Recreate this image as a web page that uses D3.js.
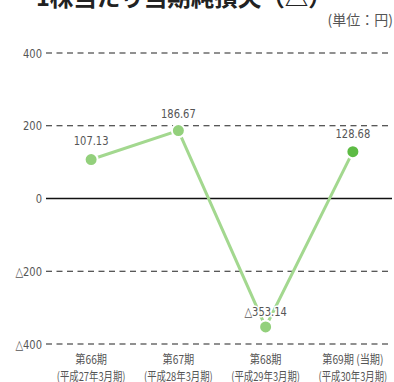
<!DOCTYPE html>
<html><head><meta charset="utf-8">
<script src="https://cdn.jsdelivr.net/npm/d3@7"></script>
<style>html,body{margin:0;padding:0;background:#fff;}</style>
</head><body>
<svg id="c" width="394" height="382"></svg>
<script>
const categories = ["第66期", "第67期", "第68期", "第69期 (当期)"];
const subLabels = ["(平成27年3月期)", "(平成28年3月期)", "(平成29年3月期)", "(平成30年3月期)"];
const values = [107.13, 186.67, -353.14, 128.68];
const valueLabels = ["107.13", "186.67", "△353.14", "128.68"];
const yTicks = [400, 200, 0, -200, -400];
const yTickLabels = ["400", "200", "0", "△200", "△400"];
const title = "1株当たり当期純損失（△）";
const unit = "(単位：円)";

const svg = d3.select("#c");
const JP = "'Noto Sans CJK JP','Noto Sans',sans-serif";
const NUM = "'Liberation Sans Narrow','DejaVu Sans Condensed',sans-serif";

const x = d3.scalePoint().domain(categories).range([47.5, 396.5]).padding(0.5);
const y = d3.scaleLinear().domain([-400, 400]).range([344, 53]);

// title (cut off at top, as in the reference)
svg.append("text").attr("x", 36).attr("y", 6)
  .attr("font-family", JP).attr("font-weight", "bold").attr("font-size", 23.5)
  .attr("fill", "#222").text(title);

svg.append("text").attr("x", 393).attr("y", 25).attr("text-anchor", "end")
  .attr("font-family", JP).attr("font-size", 14).attr("fill", "#555").text(unit);

// grid
yTicks.forEach((t, i) => {
  svg.append("line").attr("x1", 46).attr("x2", 392)
    .attr("y1", y(t)).attr("y2", y(t))
    .attr("stroke", t === 0 ? "#111" : "#222")
    .attr("stroke-width", t === 0 ? 1.3 : 1.2)
    .attr("stroke-dasharray", t === 0 ? null : "6,4.5");
  svg.append("text")
    .attr("transform", `translate(42,${y(t) + 4.5}) scale(0.85,1)`)
    .attr("text-anchor", "end").attr("font-family", NUM).attr("font-size", 13)
    .attr("fill", "#555").text(yTickLabels[i]);
});

const pts = categories.map((c, i) => ({c, v: values[i], lab: valueLabels[i], i}));

svg.append("path").datum(pts)
  .attr("d", d3.line().x(d => x(d.c)).y(d => y(d.v)))
  .attr("fill", "none").attr("stroke", "#a3d88f").attr("stroke-width", 3);

svg.selectAll("circle.pt").data(pts).enter().append("circle")
  .attr("cx", d => x(d.c)).attr("cy", d => y(d.v)).attr("r", 6.5)
  .attr("fill", d => d.i === 3 ? "#5dbb44" : "#93d07c")
  .attr("stroke", "#fff").attr("stroke-width", 2);

const labOff = [15, 13, 11, 14];
svg.selectAll("text.val").data(pts).enter().append("text")
  .attr("transform", d => `translate(${x(d.c)},${y(d.v) - labOff[d.i]}) scale(0.85,1)`)
  .attr("text-anchor", "middle").attr("font-family", NUM).attr("font-size", 13)
  .attr("fill", "#555").attr("stroke", "#fff").attr("stroke-width", 3)
  .attr("paint-order", "stroke").text(d => d.lab);

// x labels
categories.forEach((c, i) => {
  svg.append("text").attr("transform", `translate(${x(c)},364) scale(0.85,1)`)
    .attr("text-anchor", "middle").attr("font-family", JP).attr("font-size", 12)
    .attr("fill", "#555").text(c);
  svg.append("text").attr("transform", `translate(${x(c)},380.5) scale(0.78,1)`)
    .attr("text-anchor", "middle").attr("font-family", JP).attr("font-size", 12)
    .attr("fill", "#555").text(subLabels[i]);
});
</script>
</body></html>
